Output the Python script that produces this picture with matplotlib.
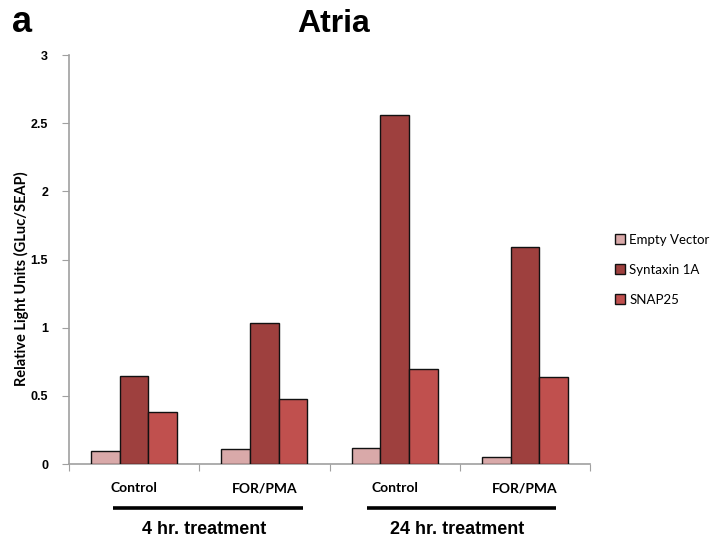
import matplotlib
matplotlib.use("Agg")
import matplotlib.pyplot as plt
import matplotlib.transforms as mtransforms
import numpy as np

categories = ["Control", "FOR/PMA", "Control", "FOR/PMA"]
series_names = ["Empty Vector", "Syntaxin 1A", "SNAP25"]
empty_vector = [0.092, 0.110, 0.117, 0.048]
syntaxin_1a = [0.646, 1.036, 2.56, 1.59]
snap25 = [0.38, 0.475, 0.70, 0.64]
group_labels = ["4 hr. treatment", "24 hr. treatment"]
y_ticks = [0, 0.5, 1, 1.5, 2, 2.5, 3]
y_tick_labels = ["0", "0.5", "1", "1.5", "2", "2.5", "3"]

colors = ["#D9A9A9", "#9E403E", "#C0504E"]
narrow = ["Liberation Sans Narrow", "Liberation Sans", "DejaVu Sans"]
body = ["Lato", "DejaVu Sans"]

fig = plt.figure(figsize=(7.15, 5.42), dpi=100)
ax = fig.add_axes([0.0965, 0.1439, 0.7287, 0.7546])

x = np.arange(len(categories))
width = 0.22
for i, (vals, name) in enumerate(zip([empty_vector, syntaxin_1a, snap25], series_names)):
    ax.bar(x + (i - 1) * width, vals, width, color=colors[i], edgecolor="#111111",
           linewidth=1.0, label=name, zorder=3)

ax.set_xlim(-0.5, len(categories) - 0.5)
ax.set_ylim(0, 3)
ax.set_yticks(y_ticks)
ax.set_yticklabels(y_tick_labels, fontsize=9, fontweight="bold", family=["Liberation Sans", "DejaVu Sans"])
ax.set_xticks(np.arange(-0.5, len(categories)), minor=False)
ax.set_xticklabels([])
ax.set_xticks(x, minor=True)
ax.set_xticklabels(categories, minor=True, fontsize=10, fontweight="bold", family=body)
ax.tick_params(axis="x", which="minor", length=0, pad=13)
ax.tick_params(axis="x", which="major", length=5, color="#A0A0A0", direction="out")
ax.tick_params(axis="y", length=5, color="#A0A0A0", direction="out", pad=10)

for side in ["top", "right"]:
    ax.spines[side].set_visible(False)
for side in ["left", "bottom"]:
    ax.spines[side].set_color("#A0A0A0")
    ax.spines[side].set_linewidth(1.2)

fig.text(21 / 715, 1 - 279 / 542, "Relative Light Units (GLuc/SEAP)", rotation=90,
         ha="center", va="center", fontsize=10.5, fontweight="bold", family=body)

# group underlines and captions below the category labels
trans = mtransforms.blended_transform_factory(ax.transData, fig.transFigure)
spans = [(-0.16, 1.3), (1.785, 3.24)]
for (x0, x1), lab in zip(spans, group_labels):
    ax.plot([x0, x1], [1 - 507.5 / 542] * 2, transform=trans, color="black",
            linewidth=2.6, clip_on=False, solid_capstyle="butt")
    ax.text((x0 + x1) / 2 - 0.03, 1 - 529 / 542, lab, transform=trans, ha="center",
            va="center", fontsize=13, fontweight="bold", family=narrow)

fig.text(334 / 715, 1 - 24 / 542, "Atria", ha="center", va="center", fontsize=23,
         fontweight="bold", family=narrow)
fig.text(12 / 715, 1 - 22 / 542, "a", ha="left", va="center", fontsize=26,
         fontweight="bold", family=narrow)

leg = ax.legend(loc="center left", bbox_to_anchor=(1.025, 0.475), frameon=False,
                prop={"family": body, "size": 9.5}, handlelength=0.75, handleheight=0.75,
                handletextpad=0.35, labelspacing=1.35)

fig.savefig("out.png", dpi=100)
